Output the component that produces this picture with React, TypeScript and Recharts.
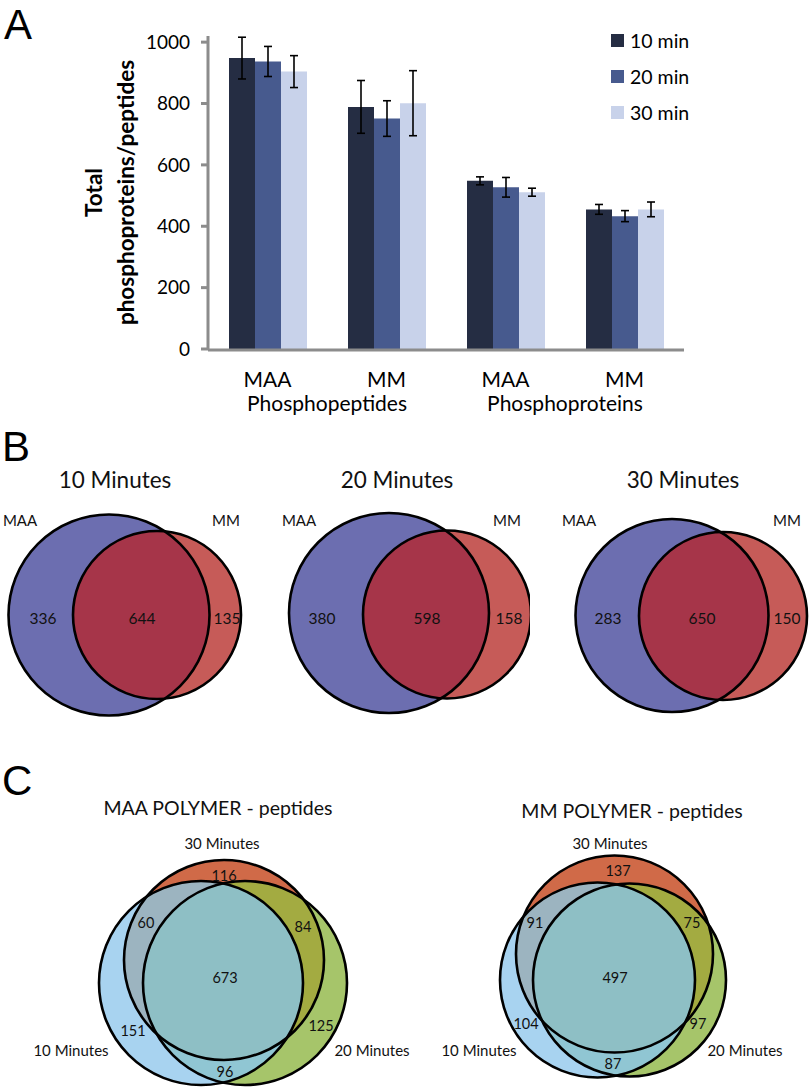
import React from 'react';
import { BarChart, Bar, XAxis, YAxis, ErrorBar, Legend, ScatterChart, Scatter } from 'recharts';

const FONT = 'Lato, "Open Sans", sans-serif';

// ---- Panel A: totals per condition ----
const categories = ['MAA', 'MM', 'MAA', 'MM'];
const groupLabels = ['Phosphopeptides', '', 'Phosphoproteins', ''];
const min10 = [948, 789, 548, 455];
const min20 = [937, 751, 527, 433];
const min30 = [904, 801, 511, 455];
const err10 = [68, 86, 13, 16];
const err20 = [49, 58, 32, 18];
const err30 = [52, 106, 13, 24];
const yTicks = [0, 200, 400, 600, 800, 1000];
const seriesNames = ['10 min', '20 min', '30 min'];
const seriesColors = ['#252d43', '#475a8e', '#c8d2ea'];

const barData = categories.map((cat, i) => ({
  cat,
  idx: i,
  m10: min10[i],
  m20: min20[i],
  m30: min30[i],
  e10: err10[i],
  e20: err20[i],
  e30: err30[i],
}));

// ---- Panel B: MAA vs MM overlap per time point ----
const vennBTitles = ['10 Minutes', '20 Minutes', '30 Minutes'];
const maaOnly = [336, 380, 283];
const bothSets = [644, 598, 650];
const mmOnly = [135, 158, 150];

// ---- Panel C: overlap between time points ----
const vennCTitles = ['MAA POLYMER - peptides', 'MM POLYMER - peptides'];
const only10 = [151, 104];
const only20 = [125, 97];
const only30 = [116, 137];
const in10and30 = [60, 91];
const in20and30 = [84, 75];
const in10and20 = [96, 87];
const inAll = [673, 497];

// geometry of the diagrams, in each diagram's own units
const vennBLayout = [
  { left: 0, maa: { x: 109, y: 155, r: 100.5 }, mm: { x: 157, y: 155, r: 84 }, title: 115, maaLbl: 20, mmLbl: 226, nums: [43, 142, 227] },
  { left: 270, maa: { x: 119, y: 153, r: 100 }, mm: { x: 177, y: 154.5, r: 84 }, title: 127, maaLbl: 29, mmLbl: 237, nums: [52, 157, 239] },
  { left: 550, maa: { x: 122, y: 155.5, r: 96.5 }, mm: { x: 173, y: 156, r: 84 }, title: 133, maaLbl: 29, mmLbl: 237, nums: [58, 152, 237] },
];

const vennCLayout = [
  {
    left: 0,
    c30: { x: 224, y: 170, r: 100 }, c10: { x: 201, y: 193, r: 102 }, c20: { x: 245, y: 193, r: 102 },
    title: { x: 218, y: 17 }, t30: { x: 222, y: 53 }, t10: { x: 71, y: 260 }, t20: { x: 372, y: 260 },
    p30: { x: 224, y: 85 }, p1030: { x: 146, y: 132 }, p2030: { x: 303, y: 136 }, pAll: { x: 225, y: 187 },
    p10: { x: 133, y: 240 }, p20: { x: 321, y: 235 }, p1020: { x: 225, y: 281 },
  },
  {
    left: 400,
    c30: { x: 214.5, y: 164, r: 98.5 }, c10: { x: 197.5, y: 190, r: 97.5 }, c20: { x: 229.5, y: 190, r: 96.5 },
    title: { x: 232, y: 20 }, t30: { x: 210, y: 53 }, t10: { x: 79, y: 260 }, t20: { x: 345, y: 260 },
    p30: { x: 218, y: 80 }, p1030: { x: 135, y: 132 }, p2030: { x: 292, y: 132 }, pAll: { x: 215, y: 187 },
    p10: { x: 126, y: 233 }, p20: { x: 298, y: 233 }, p1020: { x: 213, y: 273 },
  },
];

const vennBColors = { maa: '#6c6eb0', mm: '#c65b58', both: '#a63549' };
const vennCColors = {
  c10: '#a8d3f0', c20: '#a6c56a', c30: '#d06a48',
  c1030: '#9cb4c0', c2030: '#a3ab41', c1020: '#90c6d3', all: '#8ebfc5',
};

type Circle = { x: number; y: number; r: number };

// one region: a circle, optionally clipped by other circles
function RegionShape(props: any) {
  const { cx, cy, payload } = props;
  if (cx == null || cy == null) return null;
  const clips: Circle[] = payload.clips || [];
  let node: React.ReactNode = (
    <circle
      cx={cx}
      cy={cy}
      r={payload.r}
      fill={payload.fill}
      stroke={payload.stroke || 'none'}
      strokeWidth={payload.strokeWidth || 0}
    />
  );
  clips.forEach((_, i) => {
    node = <g clipPath={`url(#${payload.id}-${i})`}>{node}</g>;
  });
  return (
    <g>
      <defs>
        {clips.map((c, i) => (
          <clipPath id={`${payload.id}-${i}`} key={i}>
            <circle cx={cx + c.x - payload.x} cy={cy + c.y - payload.y} r={c.r} />
          </clipPath>
        ))}
      </defs>
      {node}
    </g>
  );
}

function TextShape(props: any) {
  const { cx, cy, payload } = props;
  if (cx == null || cy == null) return null;
  return (
    <text x={cx} y={cy} textAnchor="middle" dominantBaseline="central" fontFamily={FONT} fontSize={payload.size} fill="#111">
      {payload.text}
    </text>
  );
}

function VennCanvas({ width, height, regions, labels }: { width: number; height: number; regions: any[]; labels: any[] }) {
  return (
    <ScatterChart width={width} height={height} margin={{ top: 0, right: 0, bottom: 0, left: 0 }}>
      <XAxis type="number" dataKey="x" domain={[0, width]} allowDataOverflow hide />
      <YAxis type="number" dataKey="y" domain={[0, height]} allowDataOverflow reversed hide />
      <Scatter data={regions} shape={RegionShape} isAnimationActive={false} />
      <Scatter data={labels} shape={TextShape} isAnimationActive={false} />
    </ScatterChart>
  );
}

const outline = (id: string, c: Circle) => ({ id, ...c, fill: 'none', stroke: '#000', strokeWidth: 2.6 });

function VennTwo({ i }: { i: number }) {
  const L = vennBLayout[i];
  const regions = [
    { id: `b${i}maa`, ...L.maa, fill: vennBColors.maa },
    { id: `b${i}mm`, ...L.mm, fill: vennBColors.mm },
    { id: `b${i}both`, ...L.mm, fill: vennBColors.both, clips: [L.maa] },
    outline(`b${i}o1`, L.maa),
    outline(`b${i}o2`, L.mm),
  ];
  const labels = [
    { x: L.title, y: 19, text: vennBTitles[i], size: 22.5 },
    { x: L.maaLbl, y: 60, text: 'MAA', size: 15 },
    { x: L.mmLbl, y: 60, text: 'MM', size: 15 },
    { x: L.nums[0], y: 158, text: String(maaOnly[i]), size: 15.5 },
    { x: L.nums[1], y: 158, text: String(bothSets[i]), size: 15.5 },
    { x: L.nums[2], y: 158, text: String(mmOnly[i]), size: 15.5 },
  ];
  return (
    <div style={{ position: 'absolute', left: L.left, top: 460 }}>
      <VennCanvas width={260} height={270} regions={regions} labels={labels} />
    </div>
  );
}

function VennThree({ i }: { i: number }) {
  const L = vennCLayout[i];
  const regions = [
    { id: `c${i}10`, ...L.c10, fill: vennCColors.c10 },
    { id: `c${i}20`, ...L.c20, fill: vennCColors.c20 },
    { id: `c${i}30`, ...L.c30, fill: vennCColors.c30 },
    { id: `c${i}1030`, ...L.c30, fill: vennCColors.c1030, clips: [L.c10] },
    { id: `c${i}2030`, ...L.c30, fill: vennCColors.c2030, clips: [L.c20] },
    { id: `c${i}1020`, ...L.c10, fill: vennCColors.c1020, clips: [L.c20] },
    { id: `c${i}all`, ...L.c10, fill: vennCColors.all, clips: [L.c20, L.c30] },
    outline(`c${i}o10`, L.c10),
    outline(`c${i}o20`, L.c20),
    outline(`c${i}o30`, L.c30),
  ];
  const labels = [
    { ...L.title, text: vennCTitles[i], size: 19.5 },
    { ...L.t30, text: '30 Minutes', size: 15 },
    { ...L.t10, text: '10 Minutes', size: 15 },
    { ...L.t20, text: '20 Minutes', size: 15 },
    { ...L.p30, text: String(only30[i]), size: 14.5 },
    { ...L.p1030, text: String(in10and30[i]), size: 14.5 },
    { ...L.p2030, text: String(in20and30[i]), size: 14.5 },
    { ...L.pAll, text: String(inAll[i]), size: 14.5 },
    { ...L.p10, text: String(only10[i]), size: 14.5 },
    { ...L.p20, text: String(only20[i]), size: 14.5 },
    { ...L.p1020, text: String(in10and20[i]), size: 14.5 },
  ];
  return (
    <div style={{ position: 'absolute', left: L.left, top: 790 }}>
      <VennCanvas width={410} height={298} regions={regions} labels={labels} />
    </div>
  );
}

const YLabel = (props: any) => {
  const { x, y, height } = props.viewBox;
  const mid = y + height / 2;
  return (
    <g fontFamily={FONT} fontWeight="bold" fontSize={22.5} fill="#000">
      <text transform={`translate(${x + 93}, ${mid}) rotate(-90)`} textAnchor="middle" dominantBaseline="central">Total</text>
      <text transform={`translate(${x + 125}, ${mid}) rotate(-90)`} textAnchor="middle" dominantBaseline="central">phosphoproteins/peptides</text>
    </g>
  );
};

const CatTick = (props: any) => {
  const { x, y, payload } = props;
  const idx = payload.index ?? props.index;
  const half = payload.offset || 59.5;
  return (
    <g fontFamily={FONT} fontSize={21} fill="#000">
      <text x={x} y={y + 38} textAnchor="middle">{payload.value}</text>
      {groupLabels[idx] ? (
        <text x={x + half} y={y + 62} textAnchor="middle">{groupLabels[idx]}</text>
      ) : null}
    </g>
  );
};

const renderLegend = (props: any) => (
  <div style={{ fontFamily: FONT }}>
    {(props.payload || []).map((p: any, i: number) => (
      <div key={i} style={{ display: 'flex', alignItems: 'center', height: 36 }}>
        <span style={{ width: 13, height: 13, background: p.color, marginRight: 6, display: 'inline-block' }} />
        <span style={{ fontSize: 19.5, color: '#000' }}>{p.value}</span>
      </div>
    ))}
  </div>
);

const letterStyle: React.CSSProperties = {
  position: 'absolute',
  fontFamily: '"Liberation Sans", Arial, sans-serif',
  fontSize: 42,
  lineHeight: '42px',
  color: '#000',
};

export default function App() {
  return (
    <div style={{ position: 'absolute', left: 0, top: 0, width: 810, height: 1088, background: '#fff', overflow: 'hidden' }}>
      <div style={{ ...letterStyle, left: 4, top: 4 }}>A</div>
      <div style={{ ...letterStyle, left: 2, top: 426 }}>B</div>
      <div style={{ ...letterStyle, left: 2, top: 760 }}>C</div>

      <div style={{ position: 'absolute', left: 0, top: 0 }}>
        <BarChart width={700} height={420} data={barData} barGap={0} margin={{ top: 36, right: 16, bottom: 0, left: 0 }}>
          {/* category labels: thin axis right under the plot, text hangs below it */}
          <XAxis
            xAxisId="cat"
            dataKey="cat"
            height={1}
            axisLine={false}
            tickLine={false}
            tickSize={0}
            tickMargin={0}
            interval={0}
            tick={<CatTick />}
          />
          {/* gray axis line with ticks at the category boundaries */}
          <XAxis
            xAxisId="edge"
            type="number"
            dataKey="idx"
            domain={[0, categories.length]}
            ticks={[0, 1, 2, 3, 4]}
            allowDataOverflow
            height={70}
            tick={false}
            tickSize={7}
            axisLine={{ stroke: '#8c8c8c', strokeWidth: 3 }}
            tickLine={{ stroke: '#8c8c8c', strokeWidth: 3 }}
          />
          <YAxis
            width={208}
            domain={[0, 1020]}
            ticks={yTicks}
            allowDataOverflow
            tickSize={7}
            tickMargin={11}
            axisLine={{ stroke: '#8c8c8c', strokeWidth: 3 }}
            tickLine={{ stroke: '#8c8c8c', strokeWidth: 3 }}
            tick={{ fontFamily: FONT, fontSize: 19, fill: '#000' }}
            label={<YLabel />}
          />
          <Legend
            layout="vertical"
            align="center"
            verticalAlign="middle"
            content={renderLegend}
            wrapperStyle={{ left: 611, top: 22, width: 100 }}
          />
          <Bar xAxisId="cat" dataKey="m10" name={seriesNames[0]} fill={seriesColors[0]} barSize={26} isAnimationActive={false}>
            <ErrorBar dataKey="e10" width={4} stroke="#000" strokeWidth={1.6} direction="y" />
          </Bar>
          <Bar xAxisId="cat" dataKey="m20" name={seriesNames[1]} fill={seriesColors[1]} barSize={26} isAnimationActive={false}>
            <ErrorBar dataKey="e20" width={4} stroke="#000" strokeWidth={1.6} direction="y" />
          </Bar>
          <Bar xAxisId="cat" dataKey="m30" name={seriesNames[2]} fill={seriesColors[2]} barSize={26} isAnimationActive={false}>
            <ErrorBar dataKey="e30" width={4} stroke="#000" strokeWidth={1.6} direction="y" />
          </Bar>
        </BarChart>
      </div>

      {vennBLayout.map((_, i) => (
        <VennTwo key={`b${i}`} i={i} />
      ))}
      {vennCLayout.map((_, i) => (
        <VennThree key={`c${i}`} i={i} />
      ))}
    </div>
  );
}
